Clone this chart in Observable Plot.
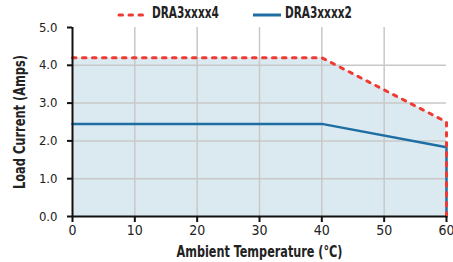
<!DOCTYPE html>
<html><head><meta charset="utf-8">
<script src="https://cdn.jsdelivr.net/npm/d3@7"></script>
<script src="https://cdn.jsdelivr.net/npm/@observablehq/plot@0.6"></script>
<style>
body{margin:0;background:#fff;font-family:"DejaVu Sans Condensed","Liberation Sans Narrow",sans-serif;}
#legend{position:relative;height:16px;width:453px;font-weight:bold;font-size:15px;color:#222;}
#legend span{position:absolute;top:5px;line-height:16px;transform:scaleX(0.78);transform-origin:0 50%;}
#legend svg{position:absolute;top:12px;}
</style></head><body>
<div id="legend"></div>
<div id="chart"></div>
<script>
const temps4 = [0, 40, 60, 60];
const amps4 = [4.2, 4.2, 2.5, 0];
const temps2 = [0, 40, 60, 60];
const amps2 = [2.45, 2.45, 1.83, 0];
const seriesNames = ["DRA3xxxx4", "DRA3xxxx2"];
const xTicks = [0, 10, 20, 30, 40, 50, 60];
const yTicks = [0, 1, 2, 3, 4, 5];

const red = "#ee3a33", blue = "#1f6ea3", fill = "#dbeaf0";
const d4 = temps4.map((t, i) => ({t, a: amps4[i]}));
const d2 = temps2.map((t, i) => ({t, a: amps2[i]}));

const lg = document.getElementById("legend");
lg.innerHTML = `
<svg width="30" height="6" style="left:117px"><line x1="2" y1="3" x2="29" y2="3" stroke="${red}" stroke-width="3" stroke-linecap="round" stroke-dasharray="3.5,6.5"/></svg>
<span style="left:152px">${seriesNames[0]}</span>
<svg width="30" height="6" style="left:252px"><line x1="1" y1="3" x2="29" y2="3" stroke="${blue}" stroke-width="3"/></svg>
<span style="left:285px">${seriesNames[1]}</span>`;

const font = '"DejaVu Sans Condensed","Liberation Sans Narrow",sans-serif';
const plot = Plot.plot({
  width: 453, height: 246,
  marginLeft: 72, marginRight: 7, marginTop: 11, marginBottom: 46,
  style: {fontFamily: font, fontSize: "13px", color: "#222", background: "#fff", overflow: "visible"},
  x: {domain: [0, 60]},
  y: {domain: [0, 5]},
  marks: [
    Plot.areaY(d4.slice(0, 3), {x: "t", y: "a", fill: fill}),
    Plot.ruleX(xTicks.filter(d => d > 0 && d < 60), {stroke: "#c8c8c8", strokeWidth: 1.5}),
    Plot.ruleY(yTicks.filter(d => d > 0 && d < 5), {stroke: "#c8c8c8", strokeWidth: 1.5}),
    Plot.line(d2, {x: "t", y: "a", stroke: blue, strokeWidth: 2.5}),
    Plot.line(d4, {x: "t", y: "a", stroke: red, strokeWidth: 3, strokeLinecap: "round", strokeDasharray: "3.5,6.5"}),
    Plot.ruleX([0], {stroke: "#111", strokeWidth: 2}),
    Plot.ruleY([0], {stroke: "#111", strokeWidth: 2}),
    Plot.axisX({ticks: xTicks, tickSize: 6, tickPadding: 3, stroke: "#111", strokeWidth: 2, fontSize: 14,
      label: "Ambient Temperature (°C)", labelAnchor: "center", labelArrow: "none", labelOffset: 40}),
    Plot.axisY({ticks: yTicks, tickSize: 5, tickPadding: 10, tickFormat: d => d.toFixed(1), stroke: "#111", strokeWidth: 2, fontSize: 13,
      label: "Load Current (Amps)", labelAnchor: "center", labelArrow: "none", labelOffset: 58})
  ]
});
document.getElementById("chart").appendChild(plot);
const xl = plot.querySelector('[aria-label="x-axis label"] text');
const yl = plot.querySelector('[aria-label="y-axis label"] text');
[[xl, 166], [yl, 134]].forEach(([t, len]) => {
  if (!t) return;
  t.style.fontWeight = "bold"; t.style.fontSize = "15px";
  t.setAttribute("textLength", len);
  t.setAttribute("lengthAdjust", "spacingAndGlyphs");
});
</script>
</body></html>
